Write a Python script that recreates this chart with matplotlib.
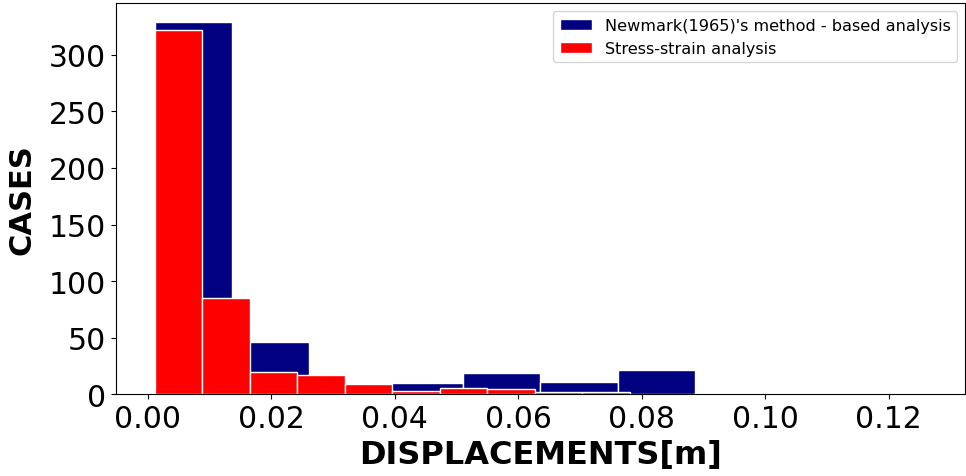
import numpy as np
from matplotlib import pyplot as plt
import matplotlib.ticker as mticker

# bin counts
newmark_edges = np.linspace(0.0011, 0.1261, 11)
newmark_counts = [329, 46, 0, 10, 19, 11, 22, 1, 0, 0]

stress_edges = np.linspace(0.0011, 0.0781, 11)
stress_counts = [322, 85, 20, 17, 9, 3, 6, 5, 2, 2]

fig, ax = plt.subplots(figsize=(9.66, 4.77), dpi=100)
fig.subplots_adjust(left=0.12, right=0.999, top=0.991, bottom=0.171)

ax.hist(newmark_edges[:-1], bins=newmark_edges, weights=newmark_counts,
        color='navy', edgecolor='white', linewidth=1,
        label="Newmark(1965)'s method - based analysis")
ax.hist(stress_edges[:-1], bins=stress_edges, weights=stress_counts,
        color='red', edgecolor='white', linewidth=1,
        label='Stress-strain analysis')

ax.yaxis.set_major_locator(mticker.MultipleLocator(50))
ax.set_xlabel('DISPLACEMENTS[m]', fontsize=23, fontweight='bold', labelpad=4)
ax.set_ylabel('CASES', fontsize=22, fontweight='bold', labelpad=9)
ax.tick_params(labelsize=21.5)
ax.legend(loc='upper right', fontsize=11.6)

fig.savefig('out.png')
